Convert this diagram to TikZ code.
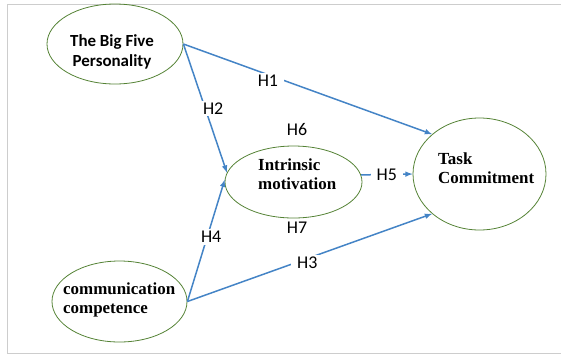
\documentclass[tikz,border=0pt]{standalone}
\usepackage{fontspec}
\setmainfont{Liberation Serif}
\newfontfamily\calfont{Carlito}
\usetikzlibrary{shapes.geometric}
\definecolor{hypblue}{RGB}{68,132,198}
\definecolor{construct}{RGB}{84,130,53}
\definecolor{framegray}{RGB}{205,205,205}

\begin{document}
\begin{tikzpicture}[
  x=1bp, y=-1bp,
  var/.style={ellipse, draw=construct, line width=0.8bp, inner sep=0pt},
  hyp/.style={hypblue, line width=1.5bp, -latex},
  hlab/.style={font=\calfont\fontsize{18}{21}\selectfont, fill=white, text=black, inner xsep=6bp, inner ysep=2bp},
  ser/.style={font=\bfseries\fontsize{17}{19}\selectfont, align=left, anchor=west, inner sep=0pt},
]
  \useasboundingbox (0,0) rectangle (561,354);
  \draw[framegray, line width=0.8bp] (561,4) -- (7,4) -- (7,353) -- (561,353);

  % constructs
  \node[var, minimum width=136bp, minimum height=80bp] (big5) at (115,44) {};
  \node[var, minimum width=137bp, minimum height=72bp] (intr) at (293.5,182) {};
  \node[var, minimum width=133bp, minimum height=112bp] (task) at (479.5,174) {};
  \node[var, minimum width=135bp, minimum height=81bp] (comm) at (119.5,301.5) {};

  \node[font=\calfont\bfseries\fontsize{17}{20}\selectfont, align=center] (big5txt) at (112,52) {The Big Five\\Personality};
  \node[ser] (intrtxt) at (258,174) {Intrinsic\\motivation};
  \node[ser] (tasktxt) at (438,168) {Task\\Commitment};
  \node[ser] (commtxt) at (63,300) {communication\\competence};

  % hypotheses
  \draw[hyp] (big5.east) -- node[hlab, pos=.34, yshift=-6bp] (h1) {H1} (task.140);
  \draw[hyp] (big5.east) -- node[hlab, pos=.5, xshift=8bp] (h2) {H2} (intr.172);
  \draw[hyp] (comm.east) -- node[hlab, pos=.53, xshift=4bp] (h4) {H4} (intr.178);
  \draw[hyp] (comm.east) -- node[hlab, pos=.49, yshift=-4bp] (h3) {H3} (task.220);
  \draw[hyp] (intr.6) -- node[hlab, pos=.5] (h5) {H5} (task.west);

  \node[font=\calfont\fontsize{18}{21}\selectfont] (h6) at (297,130) {H6};
  \node[font=\calfont\fontsize{18}{21}\selectfont] (h7) at (297,228) {H7};
\end{tikzpicture}
\end{document}
